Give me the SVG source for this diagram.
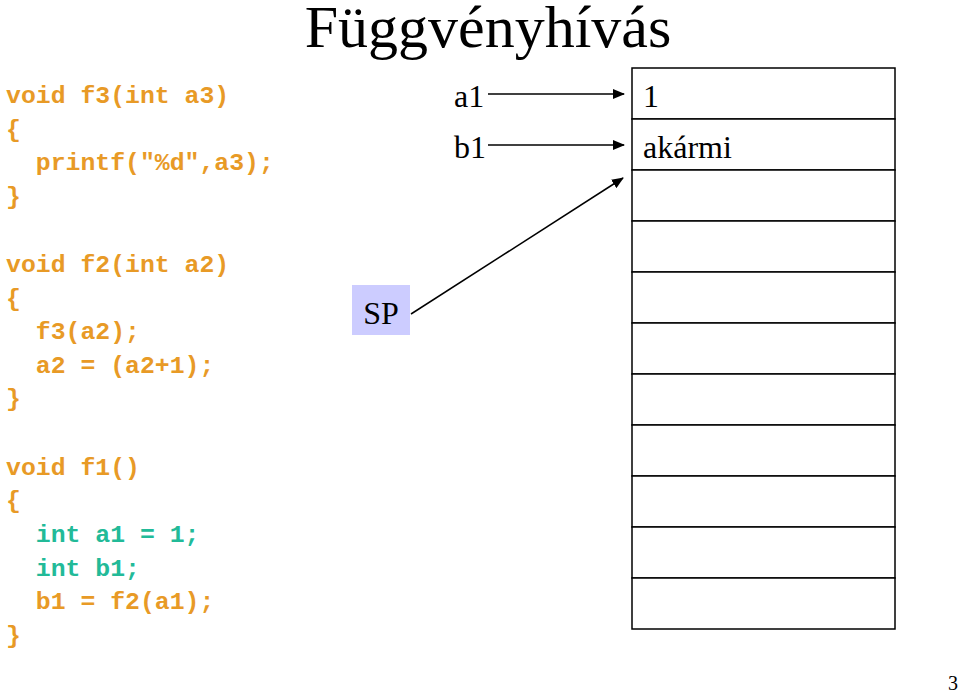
<svg xmlns="http://www.w3.org/2000/svg" width="960" height="696" viewBox="0 0 960 696">
<defs>
<marker id="ah" markerWidth="12" markerHeight="10" refX="11" refY="5" orient="auto" markerUnits="userSpaceOnUse">
<path d="M0,0 L12,5 L0,10 Z" fill="#000"/>
</marker>
<style>
.code{font-family:"Liberation Mono","Courier New",monospace;font-weight:bold;font-size:24.8px;fill:#E89A26;white-space:pre}
.g{fill:#22BA98}
.tm{font-family:"Liberation Serif","Times New Roman",serif;fill:#000}
.cell{fill:#fff;stroke:#000;stroke-width:1.5}
.con{stroke:#000;stroke-width:1.5;fill:none}
</style>
</defs>
<rect width="960" height="696" fill="#fff"/>
<text class="tm" x="488" y="47" font-size="60" text-anchor="middle">Függvényhívás</text>

<g id="code-f3">
<text class="code" x="6" y="103">void f3(int a3)</text>
<text class="code" x="6" y="137">{</text>
<text class="code" x="6" y="170">  printf(″%d″,a3);</text>
<text class="code" x="6" y="204">}</text>
</g>
<g id="code-f2">
<text class="code" x="6" y="272">void f2(int a2)</text>
<text class="code" x="6" y="306">{</text>
<text class="code" x="6" y="339">  f3(a2);</text>
<text class="code" x="6" y="373">  a2 = (a2+1);</text>
<text class="code" x="6" y="406">}</text>
</g>
<g id="code-f1">
<text class="code" x="6" y="475">void f1()</text>
<text class="code" x="6" y="508">{</text>
<text class="code g" x="6" y="542">  int a1 = 1;</text>
<text class="code g" x="6" y="576">  int b1;</text>
<text class="code" x="6" y="609">  b1 = f2(a1);</text>
<text class="code" x="6" y="643">}</text>
</g>

<g id="stack">
<rect class="cell" x="632" y="68" width="263" height="51"/>
<rect class="cell" x="632" y="119" width="263" height="51"/>
<rect class="cell" x="632" y="170" width="263" height="51"/>
<rect class="cell" x="632" y="221" width="263" height="51"/>
<rect class="cell" x="632" y="272" width="263" height="51"/>
<rect class="cell" x="632" y="323" width="263" height="51"/>
<rect class="cell" x="632" y="374" width="263" height="51"/>
<rect class="cell" x="632" y="425" width="263" height="51"/>
<rect class="cell" x="632" y="476" width="263" height="51"/>
<rect class="cell" x="632" y="527" width="263" height="51"/>
<rect class="cell" x="632" y="578" width="263" height="51"/>
<text class="tm" x="643" y="107" font-size="32">1</text>
<text class="tm" x="643" y="158" font-size="32">akármi</text>
</g>

<g id="label-a1"><text class="tm" x="454" y="107" font-size="32">a1</text></g>
<g id="label-b1"><text class="tm" x="454" y="158" font-size="32">b1</text></g>
<g id="sp">
<rect x="352" y="285" width="58" height="50" fill="#CCCCFF"/>
<text class="tm" x="381" y="324" font-size="32" text-anchor="middle">SP</text>
</g>

<g id="connectors">
<line class="con" x1="488" y1="94" x2="624" y2="94" marker-end="url(#ah)"/>
<line class="con" x1="488" y1="145" x2="624" y2="145" marker-end="url(#ah)"/>
<line class="con" x1="411" y1="314" x2="623" y2="178" marker-end="url(#ah)"/>
</g>

<text class="tm" x="948" y="690" font-size="20">3</text>
</svg>
